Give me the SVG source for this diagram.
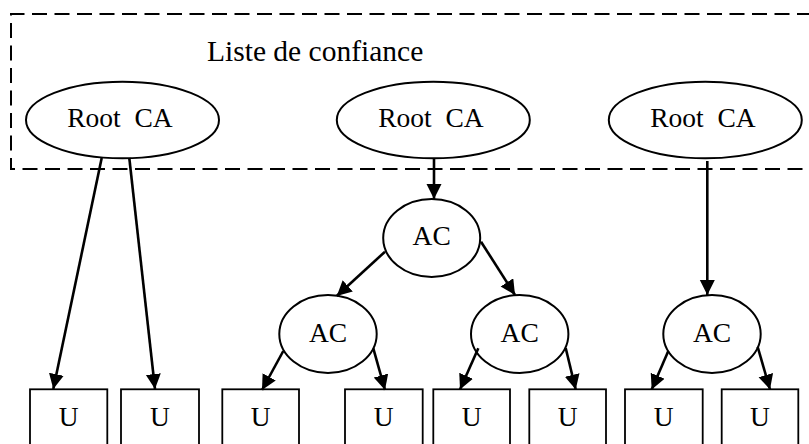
<svg xmlns="http://www.w3.org/2000/svg" width="809" height="444" viewBox="0 0 809 444">
  <style>
    text { font-family: "Liberation Serif", "Times New Roman", serif; font-size: 27.5px; fill: #000; text-anchor: middle; }
    .title { font-size: 29.5px; text-anchor: start; }
    .node ellipse { fill: #fff; stroke: #000; stroke-width: 2; }
    .node rect { fill: #fff; stroke: #000; stroke-width: 1.8; }
    .trust { fill: none; stroke: #000; stroke-width: 2; stroke-dasharray: 15 7.5; }
    .edges line { stroke: #000; stroke-width: 2.6; marker-end: url(#arrow); }
  </style>
  <defs>
    <marker id="arrow" markerUnits="userSpaceOnUse" markerWidth="17" markerHeight="16" refX="15" refY="7.5" orient="auto">
      <path d="M0,0 L15,7.5 L0,15 z" fill="#000"/>
    </marker>
  </defs>
  <rect width="809" height="444" fill="#fff"/>

  <!-- trust list boundary -->
  <g id="trust-list">
    <path class="trust" d="M812,14 H11 V169 H812"/>
    <text class="title" x="207" y="61">Liste de confiance</text>
  </g>

  <!-- root authorities -->
  <g id="root1" class="node">
    <ellipse cx="122.5" cy="120" rx="96.5" ry="38.3"/>
    <text x="120" y="127" xml:space="preserve">Root  CA</text>
  </g>
  <g id="root2" class="node">
    <ellipse cx="433.3" cy="120" rx="96.5" ry="38.3"/>
    <text x="431" y="127" xml:space="preserve">Root  CA</text>
  </g>
  <g id="root3" class="node">
    <ellipse cx="705.3" cy="120" rx="96.5" ry="38.3"/>
    <text x="703" y="127" xml:space="preserve">Root  CA</text>
  </g>

  <!-- intermediate authorities -->
  <g id="ac-top" class="node">
    <ellipse cx="431.7" cy="238" rx="48.5" ry="39"/>
    <text x="431.7" y="245">AC</text>
  </g>
  <g id="ac-left" class="node">
    <ellipse cx="328" cy="334" rx="48.7" ry="39"/>
    <text x="328" y="342">AC</text>
  </g>
  <g id="ac-mid" class="node">
    <ellipse cx="519.7" cy="334" rx="48.7" ry="39"/>
    <text x="519.7" y="342">AC</text>
  </g>
  <g id="ac-right" class="node">
    <ellipse cx="712" cy="334" rx="48.7" ry="39"/>
    <text x="712" y="342">AC</text>
  </g>

  <!-- end users -->
  <g id="u1" class="node"><rect x="30" y="389.3" width="77.3" height="70"/><text x="68.7" y="426">U</text></g>
  <g id="u2" class="node"><rect x="121" y="389.3" width="78" height="70"/><text x="160" y="426">U</text></g>
  <g id="u3" class="node"><rect x="222.3" y="389.3" width="76.7" height="70"/><text x="260.7" y="426">U</text></g>
  <g id="u4" class="node"><rect x="345" y="389.3" width="77.7" height="70"/><text x="383.8" y="426">U</text></g>
  <g id="u5" class="node"><rect x="433.3" y="389.3" width="76.7" height="70"/><text x="471.7" y="426">U</text></g>
  <g id="u6" class="node"><rect x="529.3" y="389.3" width="76.7" height="70"/><text x="567.7" y="426">U</text></g>
  <g id="u7" class="node"><rect x="625" y="389.3" width="77.7" height="70"/><text x="663.8" y="426">U</text></g>
  <g id="u8" class="node"><rect x="721.7" y="389.3" width="76.6" height="70"/><text x="760" y="426">U</text></g>

  <!-- certification links -->
  <g id="edges" class="edges">
    <line x1="101.7" y1="158" x2="53.3" y2="389"/>
    <line x1="129.3" y1="158" x2="155" y2="389"/>
    <line x1="434" y1="158.3" x2="434" y2="199"/>
    <line x1="707.3" y1="161" x2="707.3" y2="295"/>
    <line x1="385" y1="251.7" x2="336.7" y2="296"/>
    <line x1="481" y1="241.7" x2="515" y2="295"/>
    <line x1="283.3" y1="351" x2="262" y2="390"/>
    <line x1="373.3" y1="348.3" x2="385" y2="390"/>
    <line x1="478.3" y1="348.3" x2="460" y2="389.5"/>
    <line x1="565.7" y1="348" x2="575.7" y2="389.5"/>
    <line x1="668.3" y1="351" x2="651.7" y2="389.5"/>
    <line x1="757.7" y1="347" x2="770" y2="389.5"/>
  </g>
</svg>
